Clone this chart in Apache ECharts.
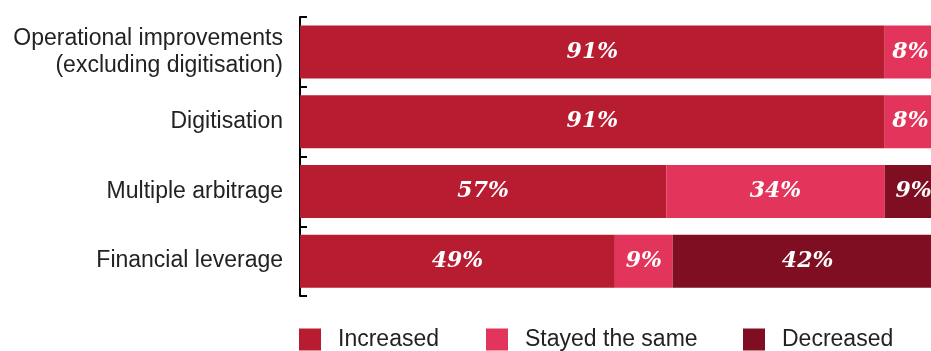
<!DOCTYPE html>
<html>
<head>
<meta charset="utf-8">
<script src="https://cdn.jsdelivr.net/npm/echarts@6/dist/echarts.min.js"></script>
<style>
html,body{margin:0;padding:0;background:#fff;}
#chart{width:931px;height:351px;}
</style>
</head>
<body>
<div id="chart"></div>
<script>
var categories = ['Operational improvements\n(excluding digitisation)', 'Digitisation', 'Multiple arbitrage', 'Financial leverage'];
var seriesNames = ['Increased', 'Stayed the same', 'Decreased'];
var increased = [91, 91, 57, 49];
var stayedSame = [8, 8, 34, 9];
var decreased = [1, 1, 9, 42];
var colors = ['#B81C31', '#E3345B', '#7F0E22'];

var chart = echarts.init(document.getElementById('chart'));
var labelStyle = {
  show: true,
  position: 'inside',
  color: '#fff',
  fontFamily: 'DejaVu Serif',
  fontStyle: 'italic',
  fontWeight: 'bold',
  fontSize: 22,
  formatter: function (p) { return p.value >= 5 ? p.value + '%' : ''; }
};
function mk(name, data, color) {
  return {
    name: name, type: 'bar', stack: 'total', data: data, barWidth: 53,
    itemStyle: { color: color }, label: labelStyle, clip: false,
    emphasis: { disabled: true }
  };
}
function legend(name, left) {
  return {
    data: [name], left: left, top: 328, padding: 0, itemWidth: 22, itemHeight: 22,
    icon: 'rect', selectedMode: false,
    textStyle: { fontFamily: 'Liberation Sans', fontSize: 23, color: '#222', padding: [6, 0, 0, 12] }
  };
}
chart.setOption({
  animation: false,
  grid: { left: 300, right: 0, top: 17, bottom: 55, containLabel: false },
  legend: [legend(seriesNames[0], 299), legend(seriesNames[1], 486), legend(seriesNames[2], 743)],
  xAxis: { type: 'value', min: 0, max: 98.2, show: false },
  yAxis: {
    type: 'category', data: categories, inverse: true,
    axisLine: { show: true, lineStyle: { color: '#000', width: 2 } },
    axisTick: { show: true, inside: true, length: 7, lineStyle: { color: '#000', width: 2 } },
    axisLabel: { margin: 17, fontFamily: 'Liberation Sans', fontSize: 23, color: '#222', lineHeight: 27, align: 'right', padding: [5, 0, 0, 0] }
  },
  series: [mk(seriesNames[0], increased, colors[0]), mk(seriesNames[1], stayedSame, colors[1]), mk(seriesNames[2], decreased, colors[2])]
});
</script>
</body>
</html>
